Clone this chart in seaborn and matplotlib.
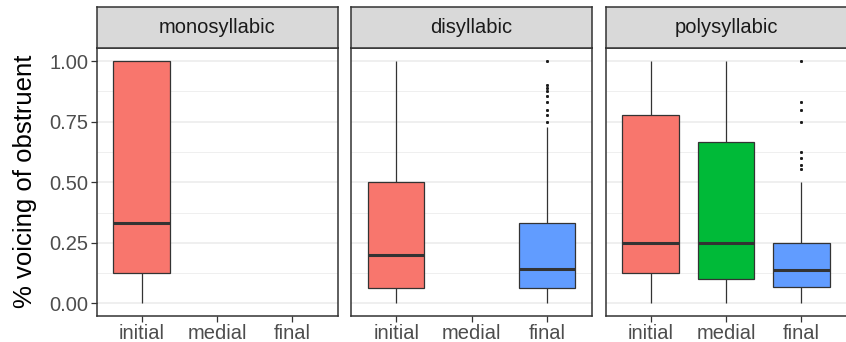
import matplotlib
matplotlib.use("Agg")
import matplotlib.pyplot as plt
from matplotlib.ticker import MultipleLocator
import seaborn as sns
import pandas as pd

positions = ["initial", "medial", "final"]
word_types = ["monosyllabic", "disyllabic", "polysyllabic"]
pos_colors = ["#F8766D", "#00BA38", "#619CFF"]
yticks = [0.0, 0.25, 0.5, 0.75, 1.0]

# proportion voiced, per word type / position
mono_initial = [0, 0.125, 0.333, 1.0, 1.0]
disyl_initial = [0, 0.0625, 0.2, 0.5, 1.0]
disyl_final = [0, 0, 0, 0, 0, 0.05, 0.05, 0.05, 0.0625, 0.0625, 0.0625,
               0.0667, 0.1, 0.1, 0.1, 0.111, 0.125, 0.125, 0.125, 0.143, 0.143,
               0.167, 0.2, 0.2, 0.222, 0.25, 0.25, 0.286, 0.3, 0.333, 0.333,
               0.727, 0.75, 0.778, 0.8, 0.833, 0.857, 0.875, 0.889, 0.9, 1.0]
poly_initial = [0, 0.125, 0.25, 0.778, 1.0]
poly_medial = [0, 0.1, 0.25, 0.667, 1.0]
poly_final = [0, 0, 0, 0, 0, 0.05, 0.05, 0.05, 0.0625, 0.0667,
              0.0714, 0.1, 0.1, 0.111, 0.125, 0.125, 0.125, 0.133, 0.136,
              0.143, 0.167, 0.182, 0.2, 0.2, 0.222, 0.25, 0.25, 0.25,
              0.5, 0.556, 0.571, 0.6, 0.625, 0.75, 0.8, 0.833, 1.0]

groups = [("monosyllabic", "initial", mono_initial),
          ("disyllabic", "initial", disyl_initial),
          ("disyllabic", "final", disyl_final),
          ("polysyllabic", "initial", poly_initial),
          ("polysyllabic", "medial", poly_medial),
          ("polysyllabic", "final", poly_final)]
rows = []
for wt, pos, vals in groups:
    for v in vals:
        rows.append({"word": wt, "position": pos, "voicing": v})
df = pd.DataFrame(rows)

sns.set_theme(style="white")
plt.rcParams["font.family"] = ["Liberation Sans", "DejaVu Sans"]

W, H = 846, 342
fig = plt.figure(figsize=(W / 100, H / 100), dpi=100)

lefts = [96.5, 351, 605.5]
pw = 241
ptop, pbot = 48, 315.5
stop = 7

for i, wt in enumerate(word_types):
    ax = fig.add_axes([lefts[i] / W, 1 - pbot / H, pw / W, (pbot - ptop) / H])
    sub = df[df["word"] == wt]
    ax.set_axisbelow(True)
    ax.yaxis.set_major_locator(MultipleLocator(0.25))
    ax.yaxis.set_minor_locator(MultipleLocator(0.125))
    ax.grid(True, which="major", color="#ebebeb", linewidth=1.1)
    ax.grid(True, which="minor", axis="y", color="#ebebeb", linewidth=0.55)
    sns.boxplot(data=sub, x="position", y="voicing", hue="position",
                order=positions, hue_order=positions, palette=pos_colors,
                saturation=1, width=0.75, linecolor="#333333", linewidth=0.9,
                showcaps=False, legend=False, ax=ax,
                medianprops=dict(linewidth=2.2, color="#333333"),
                flierprops=dict(marker="s", markersize=1.1,
                                markerfacecolor="#1a1a1a",
                                markeredgecolor="#1a1a1a"))
    ax.set_xlim(-0.6, 2.6)
    ax.set_ylim(-0.05, 1.054)
    ax.set_yticks(yticks)
    ax.set_xlabel("")
    ax.set_ylabel("")
    for s in ax.spines.values():
        s.set_color("#333333")
        s.set_linewidth(1.1)
    ax.tick_params(axis="x", length=4, width=0.9, color="#333333",
                   labelsize=14.5, labelcolor="#4d4d4d", pad=2, bottom=True)
    ax.tick_params(axis="y", which="minor", length=0)
    if i == 0:
        ax.set_yticklabels([f"{t:.2f}" for t in yticks])
        ax.tick_params(axis="y", which="major", length=4, width=0.9,
                       color="#333333", labelsize=14.5,
                       labelcolor="#4d4d4d", pad=2, left=True)
        ax.set_ylabel("% voicing of obstruent", fontsize=18.5,
                      color="black", labelpad=9)
    else:
        ax.tick_params(axis="y", which="major", length=0, labelleft=False)

    sax = fig.add_axes([lefts[i] / W, 1 - ptop / H, pw / W, (ptop - stop) / H])
    sax.set_facecolor("#d9d9d9")
    sax.set_xticks([])
    sax.set_yticks([])
    for s in sax.spines.values():
        s.set_color("#333333")
        s.set_linewidth(1.1)
    sax.text(0.5, 0.5, wt, ha="center", va="center", fontsize=14.5,
             color="#1a1a1a", transform=sax.transAxes)

fig.savefig("out.png", dpi=100)
